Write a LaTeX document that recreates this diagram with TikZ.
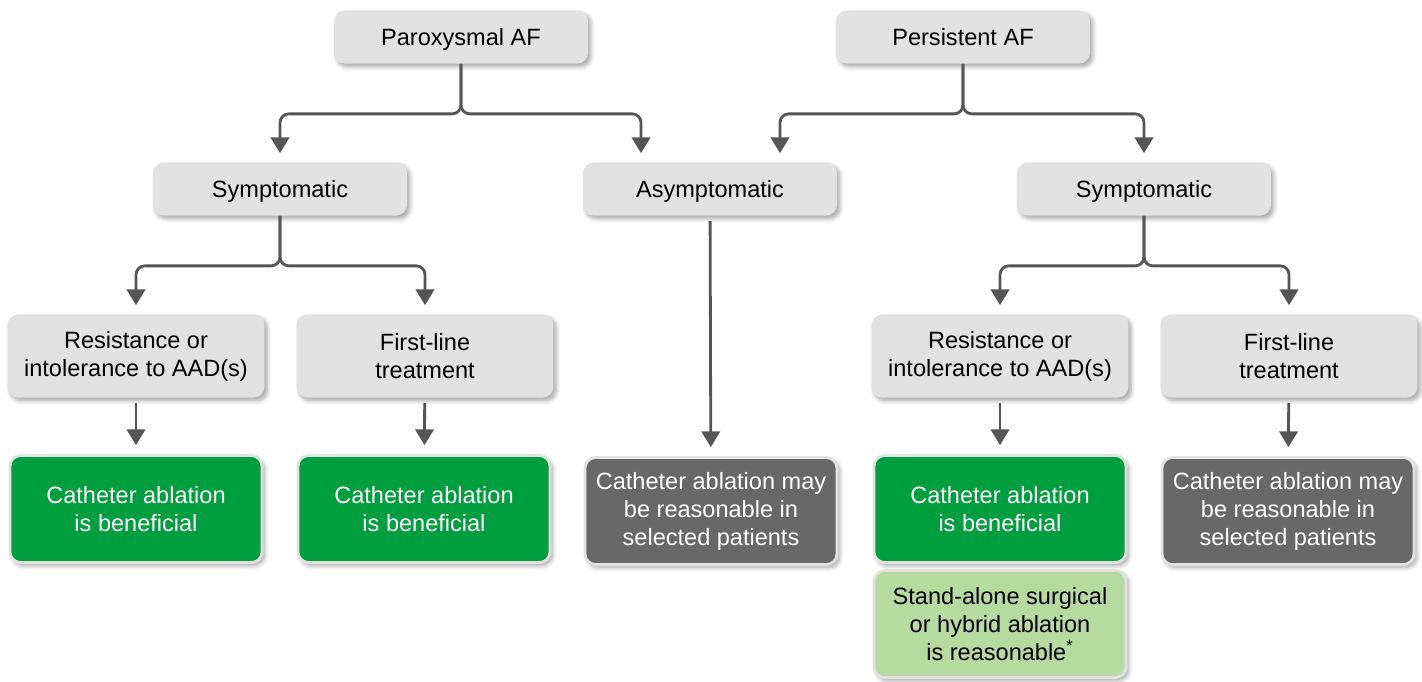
\documentclass[tikz,border=0pt]{standalone}
\usepackage{fontspec}
\setmainfont{Liberation Sans}
\usetikzlibrary{arrows.meta,shadows.blur}

\definecolor{boxgray}{RGB}{226,226,226}
\definecolor{ablgreen}{RGB}{0,158,62}
\definecolor{mildgreen}{RGB}{183,218,160}
\definecolor{maygray}{RGB}{104,104,104}
\definecolor{linegray}{RGB}{85,85,85}

\tikzset{
  basebox/.style={rounded corners=6pt, align=center, inner sep=0pt,
    font=\fontsize{13.4}{15.9}\selectfont,
    blur shadow={shadow xshift=1.6pt, shadow yshift=-1.8pt,
      shadow blur radius=2.4pt, shadow blur steps=6, shadow opacity=35}},
  headbox/.style={basebox, fill=boxgray, minimum width=5.08cm, minimum height=1.06cm,
    text height=9.6pt, text depth=0pt},
  midbox/.style={basebox, fill=boxgray, minimum width=5.14cm, minimum height=1.66cm},
  endbox/.style={basebox, draw=boxgray, line width=1.6pt,
    minimum width=5.04cm, minimum height=2.14cm},
  goodbox/.style={endbox, fill=ablgreen, text=white},
  maybox/.style={endbox, fill=maygray, text=white},
  surgbox/.style={endbox, fill=mildgreen},
  conn/.style={draw=linegray, line width=1.6pt, rounded corners=5pt,
    -{Triangle[width=10.5pt,length=9pt]}, shorten >=0.18cm}
}

\begin{document}
\begin{tikzpicture}[x=0.02cm,y=-0.02cm]
\useasboundingbox (0,0) rectangle (1422,681);

% top row
\node[headbox] (parox) at (461,37) {Paroxysmal AF};
\node[headbox] (pers) at (963,37) {Persistent AF};

% second row
\node[headbox] (symL) at (280,189) {Symptomatic};
\node[headbox] (asym) at (710,189) {Asymptomatic};
\node[headbox] (symR) at (1144,189) {Symptomatic};

% third row
\node[midbox] (resL) at (136,356) {Resistance or\\intolerance to AAD(s)};
\node[midbox] (firstL) at (425,356) {First-line\\treatment};
\node[midbox] (resR) at (1000,356) {Resistance or\\intolerance to AAD(s)};
\node[midbox] (firstR) at (1289,356) {First-line\\treatment};

% recommendations
\node[goodbox] (ablL) at (136,509) {Catheter ablation\\is beneficial};
\node[goodbox] (ablM) at (424,509) {Catheter ablation\\is beneficial};
\node[maybox] (mayM) at (711,511) {Catheter ablation may\\be reasonable in\\selected patients};
\node[goodbox] (ablR) at (1000,509) {Catheter ablation\\is beneficial};
\node[maybox] (mayR) at (1288,511) {Catheter ablation may\\be reasonable in\\selected patients};
\node[surgbox] (surg) at (1000,624) {Stand-alone surgical\\or hybrid ablation\\is reasonable\textsuperscript{*}};

% junctions
\path (parox.south) ++(0,50) coordinate (jP);
\path (pers.south) ++(0,50) coordinate (jQ);
\path (symL.south) ++(0,50) coordinate (jSL);
\path (symR.south) ++(0,50) coordinate (jSR);

% connectors
\draw[conn] (parox.south) -- (jP) -| (symL.north);
\draw[conn] (parox.south) -- (jP) -| ([xshift=-1.38cm]asym.north);
\draw[conn] (pers.south) -- (jQ) -| ([xshift=1.4cm]asym.north);
\draw[conn] (pers.south) -- (jQ) -| (symR.north);
\draw[conn] (symL.south) -- (jSL) -| (resL.north);
\draw[conn] (symL.south) -- (jSL) -| (firstL.north);
\draw[conn] (symR.south) -- (jSR) -| (resR.north);
\draw[conn] (symR.south) -- (jSR) -| (firstR.north);
\draw[conn, shorten <=0.1cm] (resL) -- (ablL);
\draw[conn, shorten <=0.1cm] (firstL) -- (ablM);
\draw[conn, shorten <=0.1cm] (asym) -- (mayM);
\draw[conn, shorten <=0.1cm] (resR) -- (ablR);
\draw[conn, shorten <=0.1cm] (firstR) -- (mayR);
\end{tikzpicture}
\end{document}
